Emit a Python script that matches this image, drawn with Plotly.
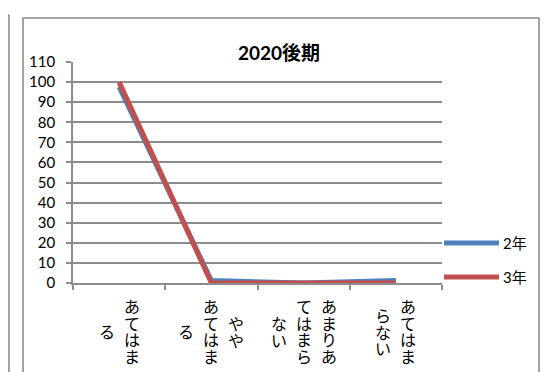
import plotly.graph_objects as go

# ---- data ----
categories = ["あてはまる", "ややあてはまる", "あまりあてはまらない", "あてはまらない"]
# tick labels as vertical columns (right-to-left reading order)
tick_label_columns = [
    ["あてはま", "る"],
    ["やや", "あてはま", "る"],
    ["あまりあ", "てはまら", "ない"],
    ["あてはま", "らない"],
]
series_names = ["2年", "3年"]
values_2nen = [97.6, 1.2, 0, 1.2]
values_3nen = [100, 0, 0, 0]
y_ticks = [0, 10, 20, 30, 40, 50, 60, 70, 80, 90, 100, 110]
title_text = "2020後期"

colors = ["#4F81BD", "#C0504D"]
grid = "#8c8c8c"
OFF = 8  # page body margin
SW, SH = 551, 372  # screen size
W, H = SW - OFF, SH - OFF
# plot area in screen pixels
PX0, PX1, PY0, PY1 = 73, 442, 62, 283
L, T = PX0 - OFF, PY0 - OFF
R, B = W - (PX1 - OFF), H - (PY1 - OFF)
PW, PH = PX1 - PX0, PY1 - PY0
FONT = "Lato, 'Noto Sans CJK JP', sans-serif"
CJK = "'Noto Sans CJK JP', sans-serif"


def px(x):
    return (x - PX0) / PW


def py(y):
    return (PY1 - y) / PH


fig = go.Figure()
for name, vals, col in zip(series_names, [values_2nen, values_3nen], colors):
    fig.add_trace(go.Scatter(
        x=categories, y=vals, name=name, mode="lines",
        line=dict(color=col, width=5), showlegend=False,
    ))

annotations = []
# vertical Japanese tick labels: one annotation per column
col_gap = 25
line_step = 16.5
glyph_px = 16
center_off = 48
for cat, cols in zip(categories, tick_label_columns):
    m = len(cols)
    for j, colstr in enumerate(cols):
        xs = ((m - 1) / 2 - j) * col_gap
        txt = "<br>".join(
            '<span style="font-size:%dpx">%s</span>' % (glyph_px, ch) for ch in colstr
        )
        annotations.append(dict(
            x=cat, y=0, xref="x", yref="paper", text=txt,
            showarrow=False, xshift=xs, yshift=-center_off,
            xanchor="center", yanchor="middle", borderpad=0,
            font=dict(family=CJK, size=line_step / 1.3, color="#000"),
        ))

# custom legend
shapes = []
legend_y = [243, 277]
for name, col, ly in zip(series_names, colors, legend_y):
    shapes.append(dict(type="line", xref="paper", yref="paper",
                       x0=px(444), x1=px(499), y0=py(ly), y1=py(ly),
                       line=dict(color=col, width=5)))
    annotations.append(dict(x=px(501), y=py(ly), xref="paper", yref="paper",
                            text=name, showarrow=False, xanchor="left",
                            yanchor="middle",
                            font=dict(family=FONT, size=15, color="#000")))

# chart frames
frame = dict(color="#8c8c8c", width=1.6)
shapes.append(dict(type="rect", xref="paper", yref="paper",
                   x0=px(23), x1=px(539), y0=py(18), y1=py(390), line=frame))
shapes.append(dict(type="line", xref="paper", yref="paper",
                   x0=px(9), x1=px(9), y0=py(15), y1=py(390), line=frame))
shapes.append(dict(type="line", xref="paper", yref="paper",
                   x0=px(0), x1=px(9), y0=py(15), y1=py(15), line=frame))

fig.update_layout(
    width=W, height=H,
    margin=dict(l=L, r=R, t=T, b=B, autoexpand=False),
    paper_bgcolor="white", plot_bgcolor="white",
    title=dict(text="<b>" + title_text + "</b>", xref="paper", x=px(279),
               xanchor="center", yref="container", y=1 - (53 - OFF) / H,
               yanchor="middle", font=dict(family=FONT, size=19, color="#000")),
    font=dict(family=FONT, color="#000"),
    shapes=shapes, annotations=annotations,
)
fig.update_xaxes(
    type="category", categoryorder="array", categoryarray=categories,
    range=[-0.5, 3.5], showgrid=False, showline=True, linecolor=grid,
    linewidth=1.6, ticks="outside", tickson="boundaries", ticklen=5,
    tickcolor=grid, tickwidth=1.6, showticklabels=False, zeroline=False,
)
fig.update_yaxes(
    range=[0, 110], tickvals=y_ticks, showgrid=True, gridcolor=grid,
    gridwidth=1.6, showline=True, linecolor=grid, linewidth=1.6,
    ticks="outside", ticklen=5, tickcolor=grid, tickwidth=1.6,
    zeroline=False, ticklabelstandoff=8,
    tickfont=dict(family=FONT, size=15, color="#000"),
)

fig.write_html("out.html")
